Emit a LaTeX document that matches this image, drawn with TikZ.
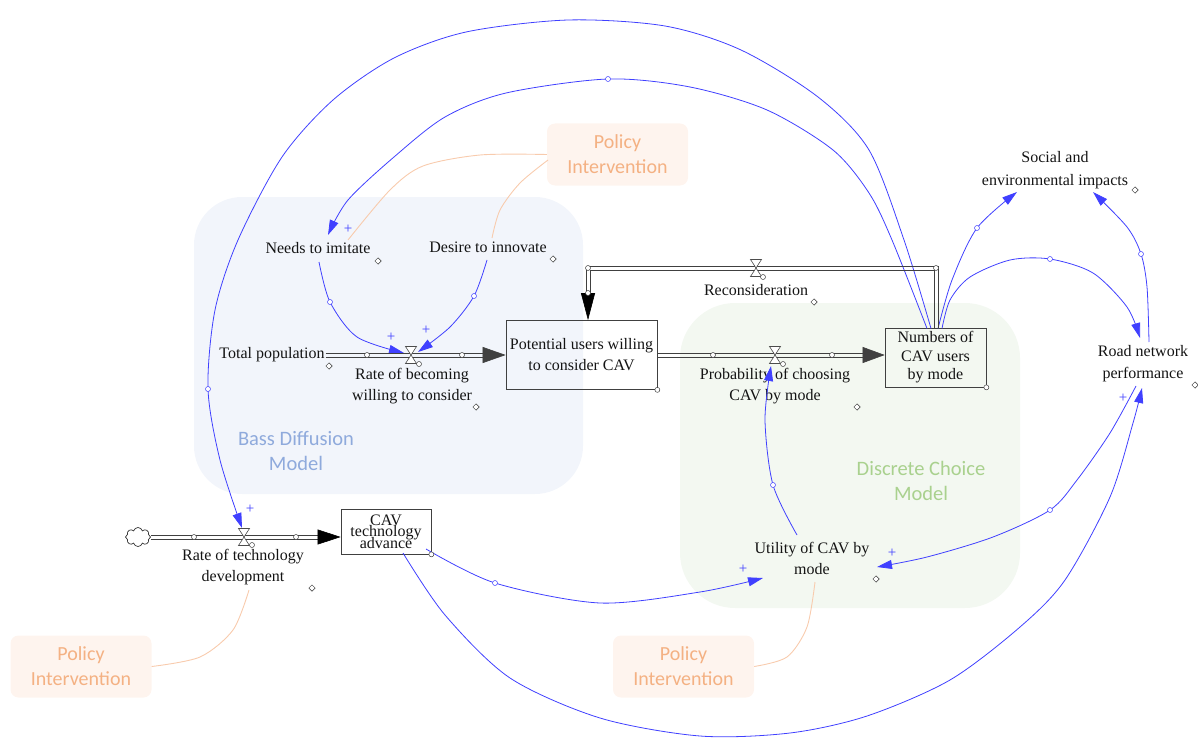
\documentclass[tikz,border=0pt]{standalone}
\usepackage{fontspec}
\setmainfont{Liberation Serif}
\newfontfamily\tnr{Liberation Serif}
\newfontfamily\calib{Carlito}
\usetikzlibrary{arrows.meta,shapes.geometric,shapes.symbols,calc}
\definecolor{linkblue}{RGB}{64,64,255}
\definecolor{piorange}{RGB}{244,177,131}
\definecolor{pifill}{RGB}{254,244,238}
\definecolor{piline}{RGB}{248,203,173}
\definecolor{bassfill}{RGB}{242,245,251}
\definecolor{basstext}{RGB}{143,170,220}
\definecolor{dcfill}{RGB}{243,248,241}
\definecolor{dctext}{RGB}{169,209,142}
\definecolor{txt}{RGB}{20,20,20}
\begin{document}
\begin{tikzpicture}[x=1pt,y=-1pt,
 lbl/.style={font=\tnr\fontsize{16}{21}\selectfont, text=txt, align=center, inner sep=1pt},
 stockbox/.style={draw=black!75, line width=0.7pt, inner sep=0pt, text=txt, align=center, font=\tnr\fontsize{16}{21}\selectfont},
 pibox/.style={fill=pifill, rounded corners=8pt, minimum width=141pt, minimum height=62pt, text=piorange, font=\calib\fontsize{20}{25}\selectfont, align=center, inner sep=0pt},
 grouplbl/.style={font=\calib\fontsize{20.5}{25}\selectfont, align=center},
 link/.style={draw=linkblue, line width=0.8pt, -{Triangle[length=15pt,width=9pt]}},
 piconn/.style={draw=piline, line width=0.9pt},
 pipeline/.style={draw=black!75, line width=0.7pt, line join=miter},
 pipetip/.style={draw=black!75, line width=0.6pt},
 dmd/.style={diamond, draw=black!80, fill=white, inner sep=0pt, minimum size=6.5pt, line width=0.5pt},
 hc/.style={circle, draw=black!75, fill=white, inner sep=0pt, minimum size=5pt, line width=0.5pt},
 bc/.style={hc, draw=linkblue},
 plus/.style={text=linkblue, font=\tnr\fontsize{15}{15}\selectfont, inner sep=0pt},
 valvepic/.pic={\draw[fill=white, draw=black!70, line width=0.6pt, line join=miter] (-5.5,-8.5) -- (5.5,-8.5) -- (-5.5,8.5) -- (5.5,8.5) -- cycle;}
]
\useasboundingbox (0,0) rectangle (1198,738);
% regions
\fill[bassfill, rounded corners=48pt] (194,197) rectangle (583,494);
\fill[dcfill, rounded corners=55pt] (680,303) rectangle (1020,608);
\node[grouplbl, text=basstext] (bass) at (296,450.5) {Bass Diffusion\\Model};
\node[grouplbl, text=dctext] (dc) at (921,480.5) {Discrete Choice\\Model};
% policy boxes
\node[pibox] (pi1) at (617.5,154.5) {Policy\\Intervention};
\node[pibox] (pi2) at (81,666.5) {Policy\\Intervention};
\node[pibox] (pi3) at (683.5,666.5) {Policy\\Intervention};
% variables
\node[lbl] (nImit) at (318,248) {Needs to imitate};
\node[lbl] (nInnov) at (488,247) {Desire to innovate};
\node[lbl] (nTotal) at (272,355) {Total population};
\node[lbl] (lRate) at (412,386.5) {Rate of becoming\\willing to consider};
\node[stockbox, minimum width=151pt, minimum height=69pt] (nPot) at (581.5,355) {Potential users willing\\to consider CAV};
\node[lbl] (lRecon) at (756,290) {Reconsideration};
\node[lbl] (lProb) at (775,386.5) {Probability of choosing\\CAV by mode};
\node[stockbox, minimum width=101pt, minimum height=59pt, font=\tnr\fontsize{16}{18.5}\selectfont] (nNum) at (935.5,357.5) {Numbers of\\CAV users\\by mode};
\node[lbl, font=\tnr\fontsize{16}{23}\selectfont] (nSoc) at (1055,170) {Social and\\environmental impacts};
\node[lbl, font=\tnr\fontsize{16}{22}\selectfont] (nRoad) at (1143,364) {Road network\\performance};
\node[lbl] (nUtil) at (812,558) {Utility of CAV by\\mode};
\node[stockbox, minimum width=90pt, minimum height=45pt] (nTech) at (386,531.5) {};
\node[lbl, font={\tnr\fontsize{16}{11.5}\selectfont\lineskiplimit=-30pt}] (tTech) at (386,531.5) {CAV\\technology\\advance};
\node[lbl] (lTech) at (243,567.5) {Rate of technology\\development};
\node[cloud, cloud puffs=8, aspect=1.3, draw=black!80, line width=0.7pt, fill=white, minimum width=25pt, minimum height=19pt, inner sep=0pt] (cloud) at (138,537) {};
% valves
\coordinate (v1) at (411,355);
\coordinate (v2) at (775,355);
\coordinate (v3) at (244,537);
\coordinate (vR) at (756,268);
\coordinate (rB) at (588,268);
% policy connectors
\draw[piconn] plot[smooth] coordinates {(pi1.west) (480,155) (423,166) (390,190) ($(nImit)+(30,-8)$)};
\draw[piconn] plot[smooth] coordinates {($(pi1)+(-69.5,5.5)$) (520,183) (500,210) ($(nInnov)+(4,-9)$)};
\draw[piconn] plot[smooth] coordinates {($(lTech)+(6,22.5)$) (233,630) (200,657) (pi2.east)};
\draw[piconn] plot[smooth] coordinates {($(nUtil)+(3,24)$) (807,627) (787,657) (pi3.east)};
% causal links
\draw[link] plot[smooth] coordinates {($(nNum)+(-8.5,-29)$) (892,240) (869,193) (833,150) (767,110) (690,87) (608,79) (506,93) (445,117) (394,157) (348,200) ($(nImit)+(10,-13)$)};
\draw[link] plot[smooth] coordinates {($(nNum)+(-4.5,-29)$) (904,240) (869,150) (818,97) (741,50) (665,26) (568,20) (466,32) (394,58) (333,100) (282,157) (238,240) (215,310) (208,389) (220,460) ($(v3)+(-2,-9)$)};
\draw[link] plot[smooth] coordinates {($(nNum)+(2.5,-29)$) (952,280) (977,228) ($(nSoc)+(-38,22)$)};
\draw[link] plot[smooth] coordinates {($(nNum)+(6.5,-29)$) (950,300) (970,277) (1010,260) (1050,259) (1093,273) (1127,307) ($(nRoad)+(-3,-26)$)};
\draw[link] plot[smooth] coordinates {($(nRoad)+(6,-22)$) (1147,287) (1141,254) (1127,227) ($(nSoc)+(38,22)$)};
\draw[link] plot[smooth] coordinates {($(nRoad)+(-7,22)$) (1110,433) (1077,480) (1050,510) (993,537) (927,557) ($(nUtil)+(65,9)$)};
\draw[link] plot[smooth] coordinates {($(nTech)+(17,21.5)$) (445,615) (510,678) (600,718) (700,736) (790,733) (867,716) (950,680) (1020,627) (1065,580) (1110,497) (1133,423) ($(nRoad)+(-1,24)$)};
\draw[link] plot[smooth] coordinates {($(nTech)+(40,17.5)$) (495,583) (600,603) (700,592) ($(nUtil)+(-49,20)$)};
\draw[link] plot[smooth] coordinates {($(nUtil)+(-15,-23)$) (773,485) (765,420) ($(v2)+(-4,11)$)};
\draw[link] plot[smooth] coordinates {($(nImit)+(1,14)$) (330,302) (357,337) ($(v1)+(-7,-2)$)};
\draw[link] plot[smooth] coordinates {($(nInnov)+(-1,13)$) (474,296) (450,327) ($(v1)+(7,-3)$)};
% pipes (two parallel lines each)
\foreach \d in {-2,2} {
  \draw[pipeline] ($(nTotal.east |- v1)+(0,\d)$) -- ($(nPot.west |- v1)+(-23,\d)$);
  \draw[pipeline] ($(nPot.east |- v2)+(0,\d)$) -- ($(nNum.west |- v2)+(-22,\d)$);
  \draw[pipeline] ($(cloud.east |- v3)+(0,\d)$) -- ($(nTech.west |- v3)+(-23,\d)$);
}
\draw[pipetip, -{Triangle[length=23pt,width=16pt]}] ($(nPot.west |- v1)+(-23,0)$) -- (nPot.west |- v1);
\draw[pipetip, -{Triangle[length=22pt,width=16pt]}] ($(nNum.west |- v2)+(-22,0)$) -- (nNum.west |- v2);
\draw[pipetip, draw=black, -{Triangle[length=23pt,width=15pt]}] ($(nTech.west |- v3)+(-23,0)$) -- (nTech.west |- v3);
\draw[pipeline] ($(nNum.north)+(2.5,0)$) -- ($(nNum.north |- rB)+(2.5,-2)$) -- ($(rB)+(-2,-2)$) -- ($(rB)+(-2,25)$);
\draw[pipeline] ($(nNum.north)+(-1.5,0)$) -- ($(nNum.north |- rB)+(-1.5,2)$) -- ($(rB)+(2,2)$) -- ($(rB)+(2,25)$);
\draw[pipetip, draw=black, -{Triangle[length=27pt,width=14pt]}] ($(rB)+(0,25)$) -- (rB |- nPot.north);
\pic at (v1) {valvepic};
\pic at (v2) {valvepic};
\pic at (v3) {valvepic};
\pic at (vR) {valvepic};
% markers
\foreach \p in {(378,261),(553,259),(329,366),(476,407),(814,302),(857,407),(1135,190),(1195,385),(312,588),(876,579)}
  \node[dmd] at \p {};
\node[hc] at (nPot.south east) {};
\node[hc] at (nNum.south east) {};
\node[hc] at (nTech.south east) {};
\foreach \p in {(367,355),(462,355),(713,355),(832,355),(194,537),(296,537),(588,268),(588,293),(936,268)}
  \node[hc] at \p {};
\node[hc] at ($(v1)+(8,9)$) {};
\node[hc] at ($(v2)+(8,9)$) {};
\node[hc] at ($(v3)+(8,8)$) {};
\node[hc] at ($(vR)+(7,9)$) {};
\foreach \p in {(608,79),(208,389),(330,302),(474,296),(977,228),(1050,259),(1141,254),(1050,510),(495,583),(773,485)}
  \node[bc] at \p {};
\foreach \p in {(348,229),(391,337),(426,330),(250,509),(743,569),(892,553),(1123,398)}
  \node[plus] at \p {+};
\end{tikzpicture}
\end{document}
